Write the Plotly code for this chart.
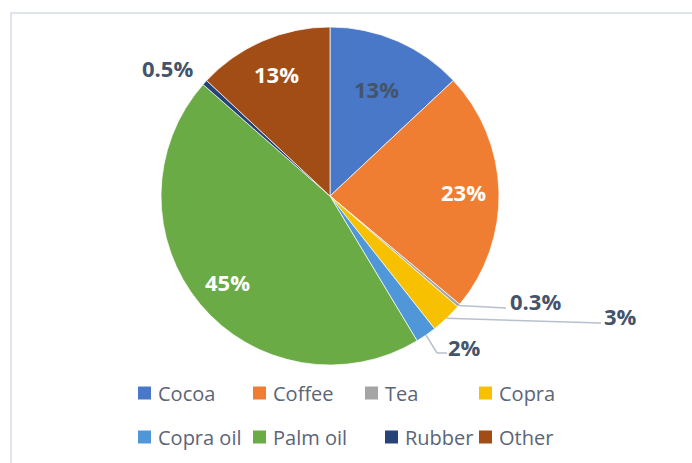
import math
import plotly.graph_objects as go

# Export shares by commodity (percent)
categories = ["Cocoa", "Coffee", "Tea", "Copra", "Copra oil", "Palm oil", "Rubber", "Other"]
shares = [13, 23, 0.3, 3, 2, 45, 0.5, 13]
labels = ["13%", "23%", "0.3%", "3%", "2%", "45%", "0.5%", "13%"]

colors = ["#4a78c9", "#ef7e32", "#a5a5a5", "#f7c000", "#4f97d8", "#6aab45", "#264478", "#a24c16"]

W, H = 692, 463
CX, CY, R = 330, 196, 169  # pie centre and radius in pixels


def px(x):
    return x / W


def py(y):
    return 1 - y / H


fig = go.Figure(
    go.Pie(
        labels=categories,
        values=shares,
        sort=False,
        direction="clockwise",
        rotation=0,
        textinfo="none",
        hoverinfo="label+percent",
        marker=dict(colors=colors, line=dict(color="rgba(255,255,255,0.7)", width=1)),
        domain=dict(x=[px(CX - R), px(CX + R)], y=[py(CY + R), py(CY - R)]),
        showlegend=False,
    )
)

# slice mid-angles (degrees clockwise from 12 o'clock)
total = sum(shares)
mids = []
acc = 0
for v in shares:
    mids.append((acc + v / 2) / total * 360)
    acc += v


def polar(angle, frac):
    a = math.radians(angle)
    return CX + frac * R * math.sin(a), CY - frac * R * math.cos(a)


DARK = "#44546a"
label_font = dict(family="Open Sans", size=22, color="white")


def text_at(x, y, text, font, xanchor="center"):
    return dict(x=px(x), y=py(y), xref="paper", yref="paper", text=text,
                xanchor=xanchor, yanchor="middle", showarrow=False, font=font)


# labels drawn inside their slices: (radial fraction, text colour)
inside = {0: (0.69, DARK), 1: (0.79, "white"), 5: (0.79, "white"), 7: (0.79, "white")}
annotations = []
for i, (frac, col) in inside.items():
    x, y = polar(mids[i], frac)
    annotations.append(text_at(x, y, f"<b>{labels[i]}</b>", dict(label_font, color=col)))

# callout labels outside the pie: label centre and leader path (pixels)
callouts = {
    2: dict(pos=(535, 301), path=[(506, 308)]),
    3: dict(pos=(620, 316), path=[(601, 323)]),
    4: dict(pos=(465, 347), path=[(437, 353), (447, 353)]),
    6: dict(pos=(167, 68), path=[]),
}
shapes = []
for i, c in callouts.items():
    annotations.append(text_at(c["pos"][0], c["pos"][1], f"<b>{labels[i]}</b>",
                               dict(label_font, color=DARK)))
    if c["path"]:
        pts = [polar(mids[i], 1.0)] + c["path"]
        for (x0, y0), (x1, y1) in zip(pts[:-1], pts[1:]):
            shapes.append(dict(type="line", xref="paper", yref="paper",
                               x0=px(x0), y0=py(y0), x1=px(x1), y1=py(y1),
                               line=dict(color="#b7c1cd", width=1.5)))

# legend: two rows of four entries
legend_cols = [[138, 253, 365, 479], [138, 253, 385, 479]]
legend_rows = [393, 437]
for k, name in enumerate(categories):
    row, col = divmod(k, 4)
    x0 = legend_cols[row][col]
    yc = legend_rows[row]
    shapes.append(dict(type="rect", xref="paper", yref="paper",
                       x0=px(x0), x1=px(x0 + 13), y0=py(yc + 6.5), y1=py(yc - 6.5),
                       fillcolor=colors[k], line=dict(width=0)))
    annotations.append(text_at(x0 + 18, yc, name,
                               dict(family="Open Sans", size=20, color="#5b6577"),
                               xanchor="left"))

# chart frame
shapes.append(dict(type="rect", xref="paper", yref="paper", layer="below",
                   x0=px(11), y0=py(H + 20), x1=px(W + 20), y1=py(13),
                   line=dict(color="#e0e5eb", width=2)))

fig.update_layout(
    width=W, height=H,
    margin=dict(l=0, r=0, t=0, b=0),
    paper_bgcolor="white",
    plot_bgcolor="white",
    annotations=annotations,
    shapes=shapes,
)

fig.write_html("out.html")
